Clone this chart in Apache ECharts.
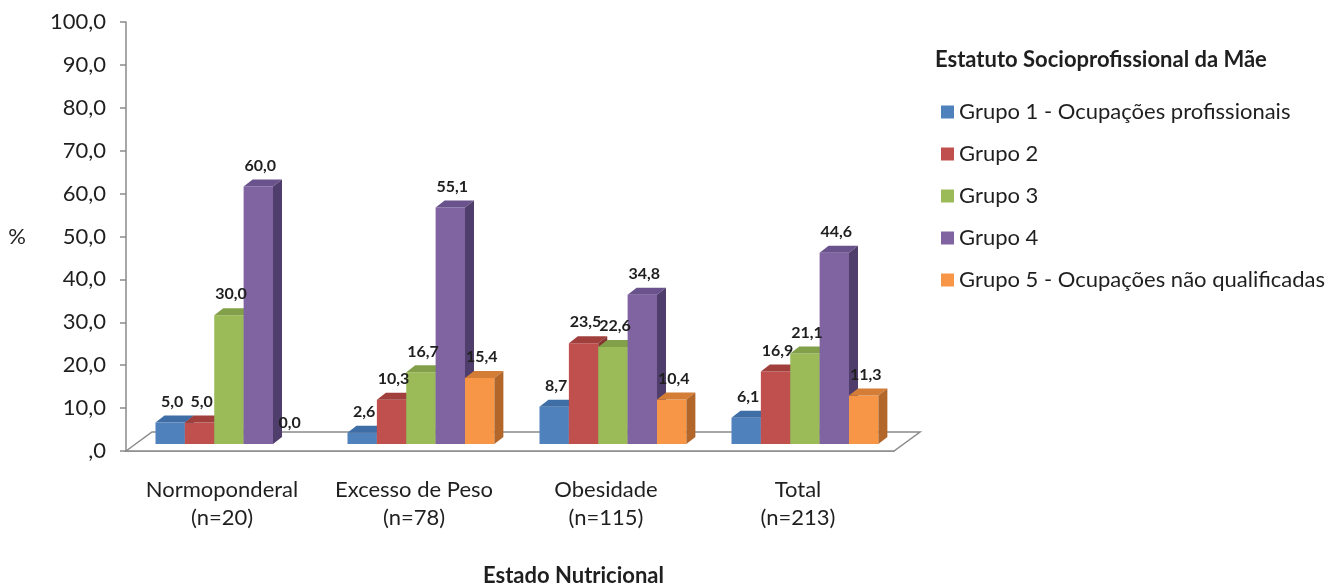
<!DOCTYPE html>
<html>
<head>
<meta charset="utf-8">
<script src="https://cdn.jsdelivr.net/npm/echarts@6/dist/echarts.min.js"></script>
<style>
html,body{margin:0;padding:0;background:#fff;}
#chart{width:1326px;height:586px;}
</style>
</head>
<body>
<div id="chart"></div>
<script>
const categories = ['Normoponderal\n(n=20)', 'Excesso de Peso\n(n=78)', 'Obesidade\n(n=115)', 'Total\n(n=213)'];
const seriesNames = ['Grupo 1 - Ocupações profissionais', 'Grupo 2', 'Grupo 3', 'Grupo 4', 'Grupo 5 - Ocupações não qualificadas'];
const grupo1 = [5.0, 2.6, 8.7, 6.1];
const grupo2 = [5.0, 10.3, 23.5, 16.9];
const grupo3 = [30.0, 16.7, 22.6, 21.1];
const grupo4 = [60.0, 55.1, 34.8, 44.6];
const grupo5 = [0.0, 15.4, 10.4, 11.3];
const yMin = 0, yMax = 100, yInterval = 10;
const legendTitle = 'Estatuto Socioprofissional da Mãe';
const xTitle = 'Estado Nutricional';
const yTitle = '%';

const groups = [grupo1, grupo2, grupo3, grupo4, grupo5];
const frontColors = ['#4F81BD', '#C0504D', '#9BBB59', '#8064A2', '#F79646'];
const topColors   = ['#3F6DA5', '#A13F3C', '#82A04A', '#6A528D', '#D47D37'];
const sideColors  = ['#34598A', '#873532', '#6E893C', '#4F3D6B', '#B3662A'];

const FONT = 'Lato, "Open Sans", sans-serif';
const TXT = '#1f1f1f';
const DX = 9, DY = 7, SHIFT_Y = 7;

function fmt(v) {
  return Number(v) === 0 ? ',0' : Number(v).toFixed(1).replace('.', ',');
}

function makeRender(sIdx) {
  return function (params, api) {
    const i = api.value(0), v = api.value(1);
    const base = api.coord([i, 0]);
    const top = api.coord([i, v]);
    const band = api.size([1, 0])[0];
    const bw = band * 0.153;
    const x0 = base[0] - band * 0.3464 + sIdx * bw;
    const yb = base[1] - SHIFT_Y;
    const yt = top[1] - SHIFT_Y;
    const children = [];
    if (v > 0) {
      children.push({type: 'rect', shape: {x: x0, y: yt, width: bw, height: yb - yt}, style: {fill: frontColors[sIdx]}});
      children.push({type: 'polygon', shape: {points: [[x0, yt], [x0 + DX, yt - DY], [x0 + bw + DX, yt - DY], [x0 + bw, yt]]}, style: {fill: topColors[sIdx]}});
      children.push({type: 'polygon', shape: {points: [[x0 + bw, yt], [x0 + bw + DX, yt - DY], [x0 + bw + DX, yb - DY], [x0 + bw, yb]]}, style: {fill: sideColors[sIdx]}});
    }
    children.push({type: 'text', z2: 10, style: {text: Number(v).toFixed(1).replace('.', ','), x: x0 + bw / 2 + 2, y: yt - 21, align: 'center', verticalAlign: 'middle', font: 'bold 16px ' + FONT, fill: TXT}});
    return {type: 'group', children: children};
  };
}

const series = groups.map((g, s) => ({
  name: seriesNames[s],
  type: 'custom',
  renderItem: makeRender(s),
  itemStyle: {color: frontColors[s]},
  data: g.map((v, i) => [i, v]),
  z: 3
}));

series.unshift({
  name: 'floor',
  type: 'custom',
  silent: true,
  z: 1,
  renderItem: function (params, api) {
    const cs = params.coordSys;
    const x = cs.x, y = cs.y + cs.height, w = cs.width;
    return {type: 'polygon', shape: {points: [[x, y], [x + 26, y - 19], [x + w + 26, y - 19], [x + w, y]]},
      style: {fill: '#fff', stroke: '#8a8a8a', lineWidth: 1.5}};
  },
  data: [[0, 0]]
});

const chart = echarts.init(document.getElementById('chart'), null, {renderer: 'canvas'});
chart.setOption({
  backgroundColor: '#fff',
  animation: false,
  grid: {left: 126, top: 22, width: 768, height: 429, containLabel: false},
  legend: {
    data: seriesNames,
    orient: 'vertical',
    left: 936, top: 96,
    itemWidth: 13, itemHeight: 13, itemGap: 20,
    icon: 'rect',
    textStyle: {fontFamily: FONT, fontSize: 22, color: TXT, lineHeight: 20}
  },
  xAxis: {
    type: 'category',
    data: categories,
    axisLine: {lineStyle: {color: '#8a8a8a', width: 1.5}},
    axisTick: {length: 6, lineStyle: {color: '#8a8a8a', width: 1.5}},
    axisLabel: {interval: 0, hideOverlap: false, fontFamily: FONT, fontSize: 22, color: TXT, lineHeight: 28, margin: 25}
  },
  yAxis: {
    type: 'value',
    min: yMin, max: yMax, interval: yInterval,
    name: yTitle,
    nameLocation: 'middle',
    nameRotate: 0,
    nameGap: 100,
    nameTextStyle: {fontFamily: FONT, fontSize: 22, color: TXT},
    splitLine: {show: false},
    axisLine: {show: true, lineStyle: {color: '#8a8a8a', width: 1.5}},
    axisTick: {show: true, length: 6, lineStyle: {color: '#8a8a8a', width: 1.5}},
    axisLabel: {fontFamily: FONT, fontSize: 22, color: TXT, margin: 20, formatter: fmt}
  },
  graphic: [
    {type: 'text', left: 935, top: 49, style: {text: legendTitle, font: 'bold 22px ' + FONT, fill: TXT}},
    {type: 'text', left: 483, top: 565, style: {text: xTitle, font: 'bold 22px ' + FONT, fill: TXT}}
  ],
  series: series
});
</script>
</body>
</html>
